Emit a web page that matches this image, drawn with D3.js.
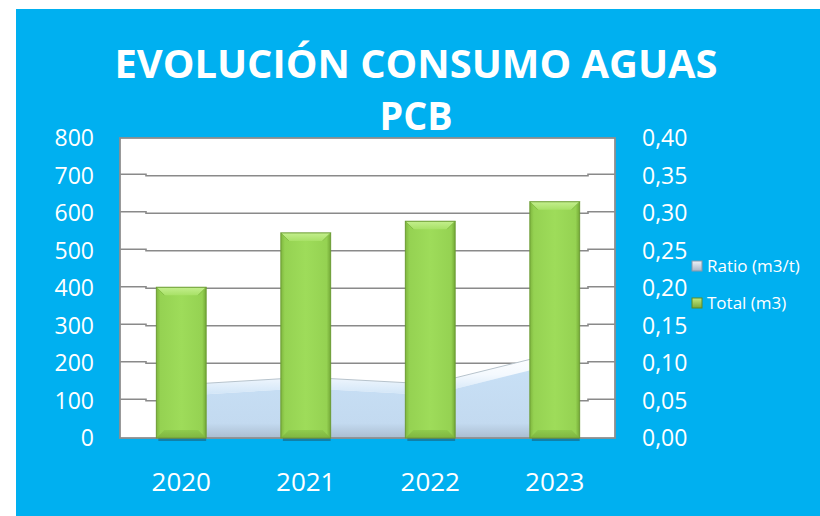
<!DOCTYPE html>
<html>
<head>
<meta charset="utf-8">
<script src="https://cdn.jsdelivr.net/npm/d3@7"></script>
<style>
  html, body { margin: 0; padding: 0; background: #ffffff; }
  svg { display: block; }
</style>
</head>
<body>
<svg id="chart" width="820" height="516"></svg>
<script>
// ---- data ----
const categories = ["2020", "2021", "2022", "2023"];
const totalValues = [402, 547, 578, 630];          // Total (m3), left axis
const ratioValues = [0.071, 0.081, 0.072, 0.113];  // Ratio (m3/t), right axis
const leftTicks = [0, 100, 200, 300, 400, 500, 600, 700, 800];
const rightTicks = [0, 0.05, 0.10, 0.15, 0.20, 0.25, 0.30, 0.35, 0.40];
const titleLines = ["EVOLUCIÓN CONSUMO AGUAS", "PCB"];
const legendItems = ["Ratio (m3/t)", "Total (m3)"];

// ---- layout ----
const svg = d3.select("#chart");
const plot = { left: 120, top: 138, right: 615, bottom: 438 };
const bg = "#00b0f0";

const defs = svg.append("defs");
function lin(id, stops, x2, y2) {
  const g = defs.append("linearGradient").attr("id", id)
    .attr("x1", 0).attr("y1", 0).attr("x2", x2).attr("y2", y2);
  stops.forEach(s => g.append("stop").attr("offset", s[0]).attr("stop-color", s[1]).attr("stop-opacity", s[2] == null ? 1 : s[2]));
}
lin("barFace", [[0, "#7fb63e"], [0.08, "#95d252"], [0.5, "#9edc5a"], [0.92, "#95d252"], [1, "#73a836"]], 1, 0);
lin("barTop", [[0, "#c4ef8e"], [1, "#a8e167"]], 0, 1);
lin("barBottom", [[0, "#8cc84a"], [1, "#79ad3c"]], 0, 1);
lin("areaFace", [[0, "#c8e0f6"], [0.8, "#c3daf0"], [1, "#aabdd0"]], 0, 1);
lin("areaFringe", [[0, "#ffffff"], [0.5, "#f4f9fe"], [1, "#cfe4f7"]], 0, 1);
lin("legRatio", [[0, "#eef2f7"], [1, "#a7b5c8"]], 0, 1);
lin("legTotal", [[0, "#c2ea7f"], [1, "#7aa93a"]], 0, 1);

// background
svg.append("rect").attr("x", 16).attr("y", 9).attr("width", 820 - 16).attr("height", 516 - 9).attr("fill", bg);

// scales
const x = d3.scaleBand().domain(categories).range([119, 617]).paddingInner(0.6).paddingOuter(0.3);
const yL = d3.scaleLinear().domain([0, 800]).range([plot.bottom, plot.top]);
const yR = d3.scaleLinear().domain([0, 0.4]).range([plot.bottom, plot.top]);

// plot area
svg.append("rect").attr("x", plot.left).attr("y", plot.top)
  .attr("width", plot.right - plot.left).attr("height", plot.bottom - plot.top)
  .attr("fill", "#ffffff");

// gridlines (3D wall step)
const grid = svg.append("g");
leftTicks.filter(t => t > 0 && t < 800).forEach(t => {
  const y = yL(t);
  grid.append("path")
    .attr("d", `M${plot.left},${y - 1.3}H146V${y + 0.3}H588V${y - 1.3}H${plot.right}`)
    .attr("fill", "none").attr("stroke", "#8a8a8a").attr("stroke-width", 1.6);
});

// area series (Ratio)
const cx = d => x(d) + x.bandwidth() / 2;
const pts = categories.map((c, i) => ({ c, v: ratioValues[i] }));
const depth = 11;
svg.append("path").datum(pts)
  .attr("d", d3.area().x(d => cx(d.c)).y0(d => yR(d.v)).y1(d => yR(d.v) + depth)(pts))
  .attr("fill", "url(#areaFringe)");
svg.append("path").datum(pts)
  .attr("d", d3.area().x(d => cx(d.c)).y0(plot.bottom).y1(d => yR(d.v) + depth)(pts))
  .attr("fill", "url(#areaFace)");
svg.append("path").datum(pts)
  .attr("d", d3.line().x(d => cx(d.c)).y(d => yR(d.v))(pts))
  .attr("fill", "none").attr("stroke", "#b7c3cc").attr("stroke-width", 1);

// plot border
svg.append("rect").attr("x", plot.left).attr("y", plot.top)
  .attr("width", plot.right - plot.left).attr("height", plot.bottom - plot.top)
  .attr("fill", "none").attr("stroke", "#8e8e8e").attr("stroke-width", 1.8);

// bars (Total)
const bars = svg.append("g");
categories.forEach((c, i) => {
  const x0 = x(c), w = x.bandwidth(), x1 = x0 + w;
  const top = yL(totalValues[i]), bot = yL(0);
  const b = 8;
  const g = bars.append("g");
  // shadow
  g.append("rect").attr("x", x0 + 2).attr("y", bot).attr("width", w - 2).attr("height", 3)
    .attr("fill", "#1d5a70").attr("opacity", 0.55);
  g.append("rect").attr("x", x0).attr("y", top).attr("width", w).attr("height", bot - top)
    .attr("fill", "url(#barFace)");
  g.append("path").attr("d", `M${x0},${top}H${x1}L${x1 - b},${top + b}H${x0 + b}Z`)
    .attr("fill", "url(#barTop)");
  g.append("path").attr("d", `M${x0},${top}L${x0 + b},${top + b}`).attr("stroke", "#86bf47").attr("stroke-width", 1);
  g.append("path").attr("d", `M${x1},${top}L${x1 - b},${top + b}`).attr("stroke", "#86bf47").attr("stroke-width", 1);
  g.append("path").attr("d", `M${x0},${bot}H${x1}L${x1 - b},${bot - b}H${x0 + b}Z`)
    .attr("fill", "url(#barBottom)").attr("opacity", 0.8);
  g.append("rect").attr("x", x0).attr("y", top).attr("width", w).attr("height", bot - top)
    .attr("fill", "none").attr("stroke", "#6c9c34").attr("stroke-width", 1);
});

// axes labels
const font = "'Open Sans', 'Noto Sans', sans-serif";
const axFs = 23;
svg.append("g").selectAll("text").data(leftTicks).join("text")
  .attr("x", 94).attr("y", d => yL(d) + axFs * 0.357)
  .attr("text-anchor", "end").attr("fill", "#ffffff")
  .attr("font-family", font).attr("font-size", axFs)
  .text(d => d3.format("d")(d));
svg.append("g").selectAll("text").data(rightTicks).join("text")
  .attr("x", 642).attr("y", d => yR(d) + axFs * 0.357)
  .attr("text-anchor", "start").attr("fill", "#ffffff")
  .attr("font-family", font).attr("font-size", axFs)
  .text(d => d3.format(".2f")(d).replace(".", ","));
svg.append("g").selectAll("text").data(categories).join("text")
  .attr("x", d => cx(d)).attr("y", 491)
  .attr("text-anchor", "middle").attr("fill", "#ffffff")
  .attr("font-family", font).attr("font-size", 26)
  .text(d => d);

// title
svg.append("text").attr("x", 416).attr("y", 78).attr("text-anchor", "middle")
  .attr("fill", "#ffffff").attr("font-family", font).attr("font-weight", 700).attr("font-size", 40)
  .attr("textLength", 603).attr("lengthAdjust", "spacingAndGlyphs").text(titleLines[0]);
svg.append("text").attr("x", 416).attr("y", 130).attr("text-anchor", "middle")
  .attr("fill", "#ffffff").attr("font-family", font).attr("font-weight", 700).attr("font-size", 40)
  .attr("textLength", 73).attr("lengthAdjust", "spacingAndGlyphs").text(titleLines[1]);

// legend
const legY = [266, 303];
const legFill = ["url(#legRatio)", "url(#legTotal)"];
const legStroke = ["#8797ab", "#5b8a28"];
legendItems.forEach((t, i) => {
  svg.append("rect").attr("x", 692).attr("y", legY[i] - 5).attr("width", 10).attr("height", 10)
    .attr("fill", legFill[i]).attr("stroke", legStroke[i]).attr("stroke-width", 1);
  svg.append("text").attr("x", 707).attr("y", legY[i] + 17 * 0.357)
    .attr("fill", "#ffffff").attr("font-family", font).attr("font-size", 17).text(t);
});
</script>
</body>
</html>
